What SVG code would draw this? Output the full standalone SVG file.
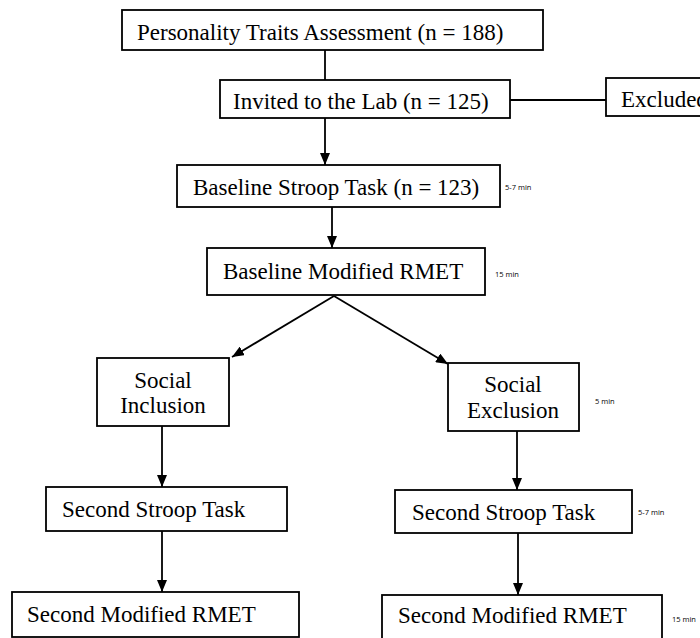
<svg xmlns="http://www.w3.org/2000/svg" width="700" height="638" viewBox="0 0 700 638">
<style>
.box{fill:#fff;stroke:#000;stroke-width:1.8}
.t{font-family:"Liberation Serif","Times New Roman",serif;font-size:23px;fill:#000}
.m{font-family:"Open Sans","Liberation Sans",sans-serif;font-size:7.5px;fill:#000}
.c{stroke:#000;stroke-width:1.8;fill:none}
</style>
<defs>
<marker id="ah" markerWidth="12" markerHeight="10" refX="12" refY="5" orient="auto" markerUnits="userSpaceOnUse">
<path d="M0,0 L12,5 L0,10 Z" fill="#000"/>
</marker>
</defs>
<rect width="700" height="638" fill="#fff"/>
<g id="connectors">
<line class="c" x1="325" y1="50" x2="325" y2="80"/>
<line class="c" x1="510" y1="100" x2="606" y2="100"/>
<line class="c" x1="325" y1="118" x2="325" y2="165" marker-end="url(#ah)"/>
<line class="c" x1="332" y1="207" x2="332" y2="248" marker-end="url(#ah)"/>
<line class="c" x1="334" y1="296" x2="232" y2="357" marker-end="url(#ah)"/>
<line class="c" x1="334" y1="296" x2="448" y2="364" marker-end="url(#ah)"/>
<line class="c" x1="162" y1="426" x2="162" y2="487" marker-end="url(#ah)"/>
<line class="c" x1="517" y1="431" x2="517" y2="490" marker-end="url(#ah)"/>
<line class="c" x1="162" y1="531" x2="162" y2="592" marker-end="url(#ah)"/>
<line class="c" x1="518" y1="533" x2="518" y2="595" marker-end="url(#ah)"/>
</g>
<g id="personality">
<rect class="box" x="122" y="10" width="421" height="40"/>
<text class="t" x="137" y="40">Personality Traits Assessment (n = 188)</text>
</g>
<g id="invited">
<rect class="box" x="220" y="80" width="290" height="38"/>
<text class="t" x="233" y="109">Invited to the Lab (n = 125)</text>
</g>
<g id="excluded">
<rect class="box" x="606" y="78" width="110" height="38"/>
<text class="t" x="621" y="107">Excluded</text>
</g>
<g id="baseline-stroop">
<rect class="box" x="177" y="165" width="323" height="42"/>
<text class="t" x="193" y="195">Baseline Stroop Task (n = 123)</text>
<text class="m" x="505" y="190">5-7 min</text>
</g>
<g id="baseline-rmet">
<rect class="box" x="207" y="248" width="278" height="47"/>
<text class="t" x="223" y="279">Baseline Modified RMET</text>
<text class="m" x="495" y="277">15 min</text>
</g>
<g id="social-inclusion">
<rect class="box" x="97" y="358" width="132" height="68"/>
<text class="t" x="163" y="388" text-anchor="middle">Social</text>
<text class="t" x="163" y="413" text-anchor="middle">Inclusion</text>
</g>
<g id="social-exclusion">
<rect class="box" x="448" y="363" width="131" height="68"/>
<text class="t" x="513" y="392" text-anchor="middle">Social</text>
<text class="t" x="513" y="418" text-anchor="middle">Exclusion</text>
<text class="m" x="595" y="404">5 min</text>
</g>
<g id="second-stroop-left">
<rect class="box" x="46" y="487" width="241" height="44"/>
<text class="t" x="62" y="517">Second Stroop Task</text>
</g>
<g id="second-stroop-right">
<rect class="box" x="395" y="490" width="237" height="43"/>
<text class="t" x="412" y="520">Second Stroop Task</text>
<text class="m" x="638" y="515">5-7 min</text>
</g>
<g id="second-rmet-left">
<rect class="box" x="12" y="592" width="287" height="45"/>
<text class="t" x="27" y="622">Second Modified RMET</text>
</g>
<g id="second-rmet-right">
<rect class="box" x="382" y="595" width="280" height="48"/>
<text class="t" x="398" y="623">Second Modified RMET</text>
<text class="m" x="672" y="622">15 min</text>
</g>
</svg>
